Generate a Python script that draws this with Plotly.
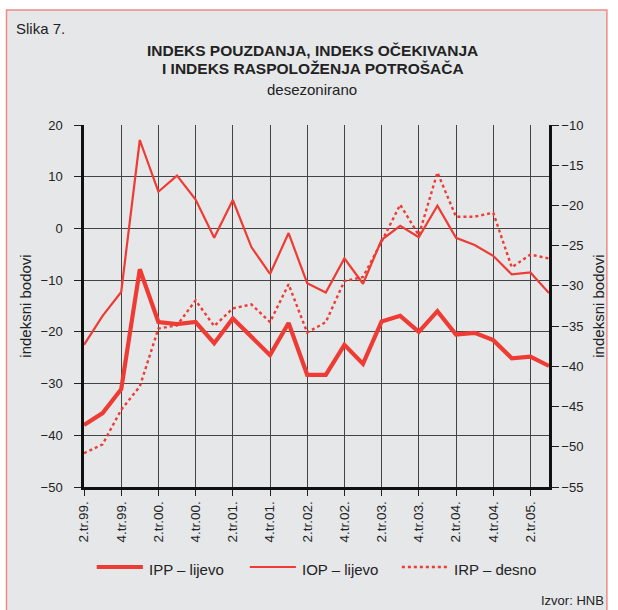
import plotly.graph_objects as go

quarters = list(range(26))
tick_pos = [0, 2, 4, 6, 8, 10, 12, 14, 16, 18, 20, 22, 24]
tick_labels = ["2.tr.99.", "4.tr.99.", "2.tr.00.", "4.tr.00.", "2.tr.01.", "4.tr.01.",
               "2.tr.02.", "4.tr.02.", "2.tr.03.", "4.tr.03.", "2.tr.04.", "4.tr.04.", "2.tr.05."]

ipp = [-38.0, -35.7, -31.1, -7.9, -18.1, -18.5, -18.1, -22.2, -17.4, -20.9, -24.5, -18.3,
       -28.3, -28.3, -22.5, -26.2, -18.0, -16.9, -20.0, -16.0, -20.5, -20.2, -21.6, -25.1,
       -24.8, -26.6]
iop = [-22.5, -16.9, -12.3, 17.1, 7.1, 10.2, 5.6, -1.8, 5.5, -3.6, -8.8, -0.9,
       -10.6, -12.4, -5.8, -10.7, -2.2, 0.5, -1.7, 4.4, -1.8, -3.2, -5.3, -8.9,
       -8.5, -12.5]
irp = [-50.8, -49.7, -45.4, -42.5, -35.3, -34.9, -31.8, -35.0, -32.8, -32.3, -34.5, -29.8,
       -35.8, -34.5, -29.4, -28.9, -24.5, -19.9, -23.7, -15.9, -21.4, -21.4, -20.9, -27.7,
       -26.1, -26.6]

series_names = ["IPP – lijevo", "IOP – lijevo", "IRP – desno"]

RED = "#ee3b33"
FONT = "Liberation Sans, Arial, sans-serif"
styles = [dict(color=RED, width=4.2), dict(color=RED, width=2.2),
          dict(color=RED, width=2.4, dash="dot")]

fig = go.Figure()
fig.add_trace(go.Scatter(x=quarters, y=ipp, mode="lines", name=series_names[0],
                         line=styles[0]))
fig.add_trace(go.Scatter(x=quarters, y=iop, mode="lines", name=series_names[1],
                         line=styles[1]))
fig.add_trace(go.Scatter(x=quarters, y=irp, mode="lines", name=series_names[2], yaxis="y2",
                         line=styles[2]))

W, H = 618, 610
L, R, T, B = 84, 60, 125, 123
pw, ph = W - L - R, H - T - B

def px(xp):
    return (xp - L) / pw

def py(yp):
    return (H - B - yp) / ph

fig.add_shape(type="rect", xref="paper", yref="paper", layer="below",
              x0=px(5), x1=px(617), y0=py(640), y1=py(10),
              fillcolor="#e6e7e9", line=dict(color="#f08a84", width=1.5))

fig.update_layout(
    width=W, height=H,
    margin=dict(l=L, r=R, t=T, b=B),
    paper_bgcolor="white",
    plot_bgcolor="#e6e7e9",
    font=dict(family=FONT, size=13, color="#222"),
    showlegend=False,
    xaxis=dict(range=[0, 25], tickmode="array", tickvals=tick_pos, ticktext=tick_labels,
               tickangle=-90, ticks="outside", ticklen=6, tickcolor="#222",
               showgrid=True, gridcolor="#444", gridwidth=1,
               showline=True, linecolor="#111", linewidth=2.5, zeroline=False,
               tickfont=dict(size=13.5)),
    yaxis=dict(range=[-50, 20], dtick=10, ticks="outside", ticklen=7, tickcolor="#222",
               ticklabelstandoff=9,
               showgrid=True, gridcolor="#444", gridwidth=1,
               showline=True, linecolor="#111", linewidth=2.5, zeroline=False,
               title=dict(text="indeksni bodovi", font=dict(size=15), standoff=6),
               tickfont=dict(size=13)),
    yaxis2=dict(range=[-55, -10], dtick=5, overlaying="y", side="right",
                ticks="outside", ticklen=7, tickcolor="#222", showgrid=False,
                showline=True, linecolor="#111", linewidth=2.5, zeroline=False,
                title=dict(text="indeksni bodovi", font=dict(size=15), standoff=12),
                tickfont=dict(size=13)),
)

# manual legend (sample lines + labels)
leg_x = [97, 253, 408]
leg_y = 567
for xs, name, st in zip(leg_x, series_names, styles):
    fig.add_shape(type="line", xref="paper", yref="paper",
                  x0=px(xs), x1=px(xs + 47), y0=py(leg_y), y1=py(leg_y), line=st)
    fig.add_annotation(xref="paper", yref="paper", showarrow=False, text=name,
                       x=px(xs + 51), y=py(leg_y + 2), xanchor="left", yanchor="middle",
                       font=dict(size=15, color="#222"))

annots = [
    dict(text="Slika 7.", x=px(13), y=py(28), xanchor="left", yanchor="middle",
         font=dict(size=15)),
    dict(text="<b>INDEKS POUZDANJA, INDEKS OČEKIVANJA</b>", x=px(317), y=py(50),
         xanchor="center", yanchor="middle", font=dict(size=15.5)),
    dict(text="<b>I INDEKS RASPOLOŽENJA POTROŠAČA</b>", x=px(317), y=py(69),
         xanchor="center", yanchor="middle", font=dict(size=15.5)),
    dict(text="desezonirano", x=px(316), y=py(89), xanchor="center", yanchor="middle",
         font=dict(size=15)),
    dict(text="Izvor: HNB", x=px(616), y=py(600), xanchor="right", yanchor="middle",
         font=dict(size=13)),
]
for a in annots:
    fig.add_annotation(xref="paper", yref="paper", showarrow=False, **a)

fig.write_html("out.html", config={"displayModeBar": False})

with open("out.html", "r", encoding="utf-8") as f:
    html = f.read()
html = html.replace("<head>", "<head><style>html,body{margin:0;padding:0;overflow:hidden;}</style>", 1)
with open("out.html", "w", encoding="utf-8") as f:
    f.write(html)
